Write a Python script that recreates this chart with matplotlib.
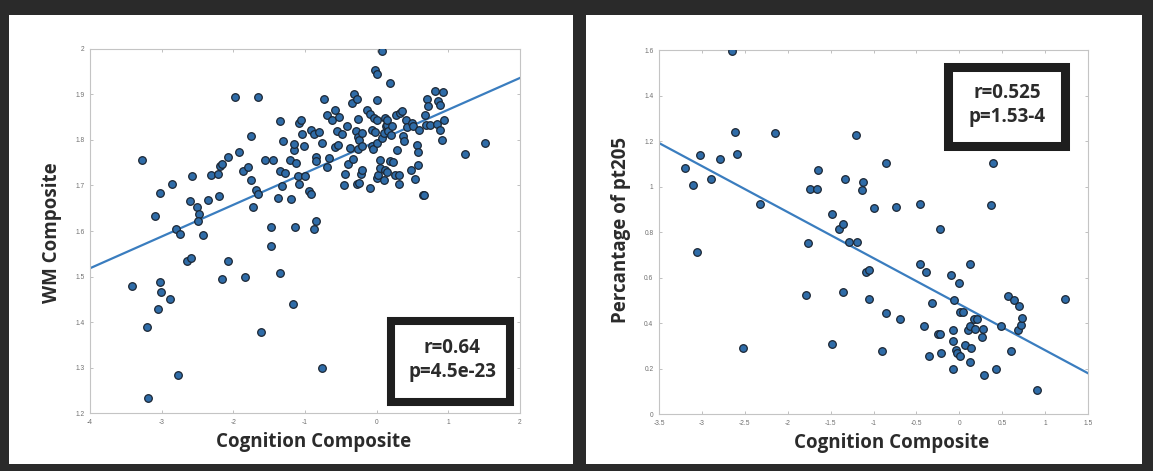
import matplotlib
matplotlib.use("Agg")
import matplotlib.pyplot as plt
from matplotlib.patches import Rectangle
import numpy as np

# Left panel -- cognition composite vs white matter composite
wm_cog = [-3.42, -3.28, -3.20, -3.19, -3.10, -3.03, -3.05, -3.02, -3.01, -2.89,
          -2.86, -2.80, -2.77, -2.74, -2.65, -2.59, -2.60, -2.58, -2.51, -2.48,
          -2.50, -2.42, -2.35, -2.31, -2.22, -2.20, -2.18, -2.16, -2.16, -2.07,
          -2.07, -1.98, -1.92, -1.86, -1.84, -1.79, -1.75, -1.75, -1.73, -1.68,
          -1.66, -1.65, -1.62, -1.56, -1.47, -1.47, -1.44, -1.38, -1.35, -1.35,
          -1.35, -1.32, -1.31, -1.28, -1.21, -1.19, -1.16, -1.15, -1.14, -1.17,
          -1.12, -1.10, -1.09, -1.05, -1.09, -1.04, -1.02, -1.00, -0.95, -0.91,
          -0.91, -0.88, -0.88, -0.85, -0.85, -0.84, -0.81, -0.77, -0.76, -0.73,
          -0.69, -0.69, -0.66, -0.62, -0.58, -0.58, -0.56, -0.54, -0.52, -0.49,
          -0.46, -0.44, -0.42, -0.40, -0.37, -0.35, -0.33, -0.32, -0.29, -0.28,
          -0.27, -0.26, -0.26, -0.26, -0.24, -0.24, -0.22, -0.21, -0.21, -0.20,
          -0.13, -0.10, -0.09, -0.07, -0.07, -0.05, -0.04, -0.03, -0.03, 0.00,
          0.00, 0.00, 0.01, 0.01, 0.02, 0.04, 0.04, 0.07, 0.07, 0.10,
          0.10, 0.11, 0.12, 0.13, 0.15, 0.15, 0.15, 0.16, 0.18, 0.18,
          0.20, 0.22, 0.23, 0.26, 0.27, 0.29, 0.31, 0.31, 0.33, 0.35,
          0.37, 0.38, 0.41, 0.43, 0.49, 0.48, 0.51, 0.54, 0.56, 0.57,
          0.57, 0.59, 0.64, 0.66, 0.67, 0.69, 0.70, 0.72, 0.74, 0.82,
          0.84, 0.86, 0.89, 0.89, 0.92, 0.91, 0.94, 1.23, 1.51]
wm_val = [1.480, 1.756, 1.390, 1.233, 1.633, 1.683, 1.429, 1.488, 1.467, 1.450,
          1.703, 1.604, 1.283, 1.594, 1.535, 1.541, 1.667, 1.720, 1.652, 1.637,
          1.622, 1.592, 1.668, 1.722, 1.725, 1.676, 1.743, 1.748, 1.494, 1.763,
          1.535, 1.894, 1.774, 1.732, 1.500, 1.741, 1.808, 1.712, 1.652, 1.690,
          1.895, 1.682, 1.377, 1.757, 1.609, 1.567, 1.757, 1.672, 1.732, 1.842,
          1.508, 1.698, 1.797, 1.728, 1.757, 1.670, 1.778, 1.792, 1.609, 1.440,
          1.749, 1.720, 1.838, 1.843, 1.703, 1.814, 1.787, 1.720, 1.687, 1.823,
          1.682, 1.814, 1.604, 1.622, 1.763, 1.754, 1.817, 1.300, 1.793, 1.890,
          1.741, 1.855, 1.761, 1.845, 1.865, 1.785, 1.819, 1.790, 1.851, 1.814,
          1.701, 1.725, 1.830, 1.748, 1.782, 1.882, 1.759, 1.902, 1.820, 1.703,
          1.890, 1.846, 1.806, 1.780, 1.706, 1.801, 1.725, 1.735, 1.816, 1.786,
          1.867, 1.695, 1.857, 1.822, 1.787, 1.780, 1.848, 1.953, 1.817, 1.944,
          1.887, 1.844, 1.793, 1.717, 1.722, 1.757, 1.739, 1.995, 1.804, 1.816,
          1.711, 1.849, 1.733, 1.830, 1.730, 1.833, 1.843, 1.819, 1.925, 1.754,
          1.810, 1.830, 1.751, 1.724, 1.856, 1.778, 1.723, 1.703, 1.859, 1.864,
          1.808, 1.798, 1.844, 1.828, 1.837, 1.733, 1.830, 1.714, 1.790, 1.773,
          1.746, 1.822, 1.679, 1.679, 1.855, 1.834, 1.889, 1.874, 1.833, 1.908,
          1.836, 1.885, 1.821, 1.877, 1.906, 1.800, 1.844, 1.770, 1.793]
wm_fit = (0.0697, 1.797)  # slope, intercept
wm_stats = ["r=0.64", "p=4.5e-23"]
wm_xticks = [-4, -3, -2, -1, 0, 1, 2]
wm_xlabels = ["-4", "-3", "-2", "-1", "0", "1", "2"]
wm_yticks = [1.2, 1.3, 1.4, 1.5, 1.6, 1.7, 1.8, 1.9, 2.0]
wm_ylabels = ["1.2", "1.3", "1.4", "1.5", "1.6", "1.7", "1.8", "1.9", "2"]

# Right panel -- cognition composite vs percentage of pt205
pt_cog = [-3.20, -3.11, -3.06, -3.02, -2.90, -2.79, -2.65, -2.62, -2.59, -2.52,
          -2.32, -2.15, -1.79, -1.76, -1.74, -1.66, -1.65, -1.48, -1.48, -1.40,
          -1.36, -1.36, -1.33, -1.29, -1.21, -1.19, -1.13, -1.12, -1.09, -1.05,
          -1.05, -1.00, -0.90, -0.85, -0.85, -0.74, -0.69, -0.46, -0.46, -0.41,
          -0.39, -0.35, -0.32, -0.25, -0.22, -0.23, -0.21, -0.10, -0.08, -0.07,
          -0.07, -0.06, -0.04, -0.03, 0.00, 0.01, 0.01, 0.04, 0.07, 0.10,
          0.12, 0.12, 0.12, 0.13, 0.17, 0.18, 0.20, 0.26, 0.28, 0.29,
          0.37, 0.39, 0.43, 0.49, 0.57, 0.60, 0.64, 0.68, 0.69, 0.72,
          0.73, 0.91, 1.23]
pt_val = [1.080, 1.008, 0.712, 1.137, 1.034, 1.121, 1.597, 1.240, 1.144, 0.289,
          0.922, 1.235, 0.522, 0.750, 0.988, 0.988, 1.074, 0.879, 0.306, 0.812,
          0.835, 0.538, 1.034, 0.756, 1.225, 0.756, 0.986, 1.021, 0.624, 0.632,
          0.505, 0.904, 0.275, 1.103, 0.444, 0.908, 0.416, 0.922, 0.658, 0.385,
          0.623, 0.253, 0.486, 0.353, 0.353, 0.813, 0.270, 0.610, 0.198, 0.371,
          0.322, 0.501, 0.283, 0.270, 0.574, 0.253, 0.447, 0.447, 0.305, 0.368,
          0.387, 0.658, 0.229, 0.289, 0.418, 0.374, 0.418, 0.337, 0.372, 0.173,
          0.920, 1.103, 0.198, 0.385, 0.517, 0.278, 0.501, 0.369, 0.476, 0.391,
          0.422, 0.105, 0.505]
pt_fit = (-0.2024, 0.4826)
pt_stats = ["r=0.525", "p=1.53-4"]
pt_xticks = [-3.5, -3, -2.5, -2, -1.5, -1, -0.5, 0, 0.5, 1, 1.5]
pt_xlabels = ["-3.5", "-3", "-2.5", "-2", "-1.5", "-1", "-0.5", "0", "0.5", "1", "1.5"]
pt_yticks = [0, 0.2, 0.4, 0.6, 0.8, 1.0, 1.2, 1.4, 1.6]
pt_ylabels = ["0", "0.2", "0.4", "0.6", "0.8", "1", "1.2", "1.4", "1.6"]

FRAME = "#2a2a2a"
DOT = "#2f6ca8"
DOT_EDGE = "#1b2633"
LINE = "#3a7dbf"
LABEL_FONT = dict(family="Open Sans", weight="bold", size=13.5, color="#2b2b2b")


def draw_panel(ax, x, y, fit, xticks, xlabels, yticks, ylabels,
               xlabel, ylabel, stats, box, text_pos, label_pos):
    xs = np.array([xticks[0], xticks[-1]])
    ax.plot(xs, fit[0] * xs + fit[1], color=LINE, lw=1.6, zorder=2)
    ax.scatter(x, y, s=30, c=DOT, edgecolors=DOT_EDGE, linewidths=0.9, zorder=3)

    ax.set_xlim(xticks[0], xticks[-1])
    ax.set_ylim(yticks[0], yticks[-1])
    ax.set_xticks(xticks)
    ax.set_xticklabels(xlabels, family="Liberation Sans")
    ax.set_yticks(yticks)
    ax.set_yticklabels(ylabels, family="Liberation Sans")
    ax.tick_params(direction="in", length=2.5, width=0.6, color="#b5b5b5",
                   labelsize=4.8, labelcolor="#707070", pad=4,
                   top=True, right=True)
    for sp in ax.spines.values():
        sp.set_color("#c4c4c4")
        sp.set_linewidth(0.8)

    ax.set_xlabel(xlabel, **LABEL_FONT)
    ax.xaxis.set_label_coords(*label_pos[0])
    ax.xaxis.label.set_va("center")
    ax.set_ylabel(ylabel, **LABEL_FONT)
    ax.yaxis.set_label_coords(*label_pos[1])
    ax.yaxis.label.set_va("center")

    # thick framed stats box
    ax.add_patch(Rectangle(box[:2], box[2], box[3], transform=ax.transAxes,
                           facecolor="white", edgecolor="#1e1e1e", lw=box[4],
                           clip_on=False, zorder=5))
    for txt, (tx, ty) in zip(stats, text_pos):
        ax.text(tx, ty, txt, transform=ax.transAxes, ha="center", va="center",
                zorder=6, **LABEL_FONT)


fig = plt.figure(figsize=(11.53, 4.71), dpi=100, facecolor=FRAME)

# white panel cards on the dark background (kept behind the axes)
fig.patches.append(Rectangle((0.0074, 0.0155), 0.4892, 0.9527, transform=fig.transFigure,
                             facecolor="white", edgecolor="none", zorder=-1))
fig.patches.append(Rectangle((0.5082, 0.0155), 0.4822, 0.9527, transform=fig.transFigure,
                             facecolor="white", edgecolor="none", zorder=-1))

ax1 = fig.add_axes([0.0781, 0.1231, 0.3729, 0.7729])
draw_panel(ax1, wm_cog, wm_val, wm_fit, wm_xticks, wm_xlabels, wm_yticks, wm_ylabels,
           "Cognition Composite", "WM Composite", wm_stats,
           (0.699, 0.0302, 0.2766, 0.2218, 5.8),
           [(0.842, 0.178), (0.842, 0.1135)],
           [(0.52, -0.079), (-0.089, 0.4945)])

ax2 = fig.add_axes([0.5716, 0.1210, 0.3721, 0.7728])
draw_panel(ax2, pt_cog, pt_val, pt_fit, pt_xticks, pt_xlabels, pt_yticks, pt_ylabels,
           "Cognition Composite", "Percantage of pt205", pt_stats,
           (0.673, 0.7376, 0.2732, 0.2151, 6.5),
           [(0.812, 0.881), (0.812, 0.815)],
           [(0.541, -0.0797), (-0.0886, 0.505)])

fig.savefig("out.png", dpi=100, facecolor=FRAME)
